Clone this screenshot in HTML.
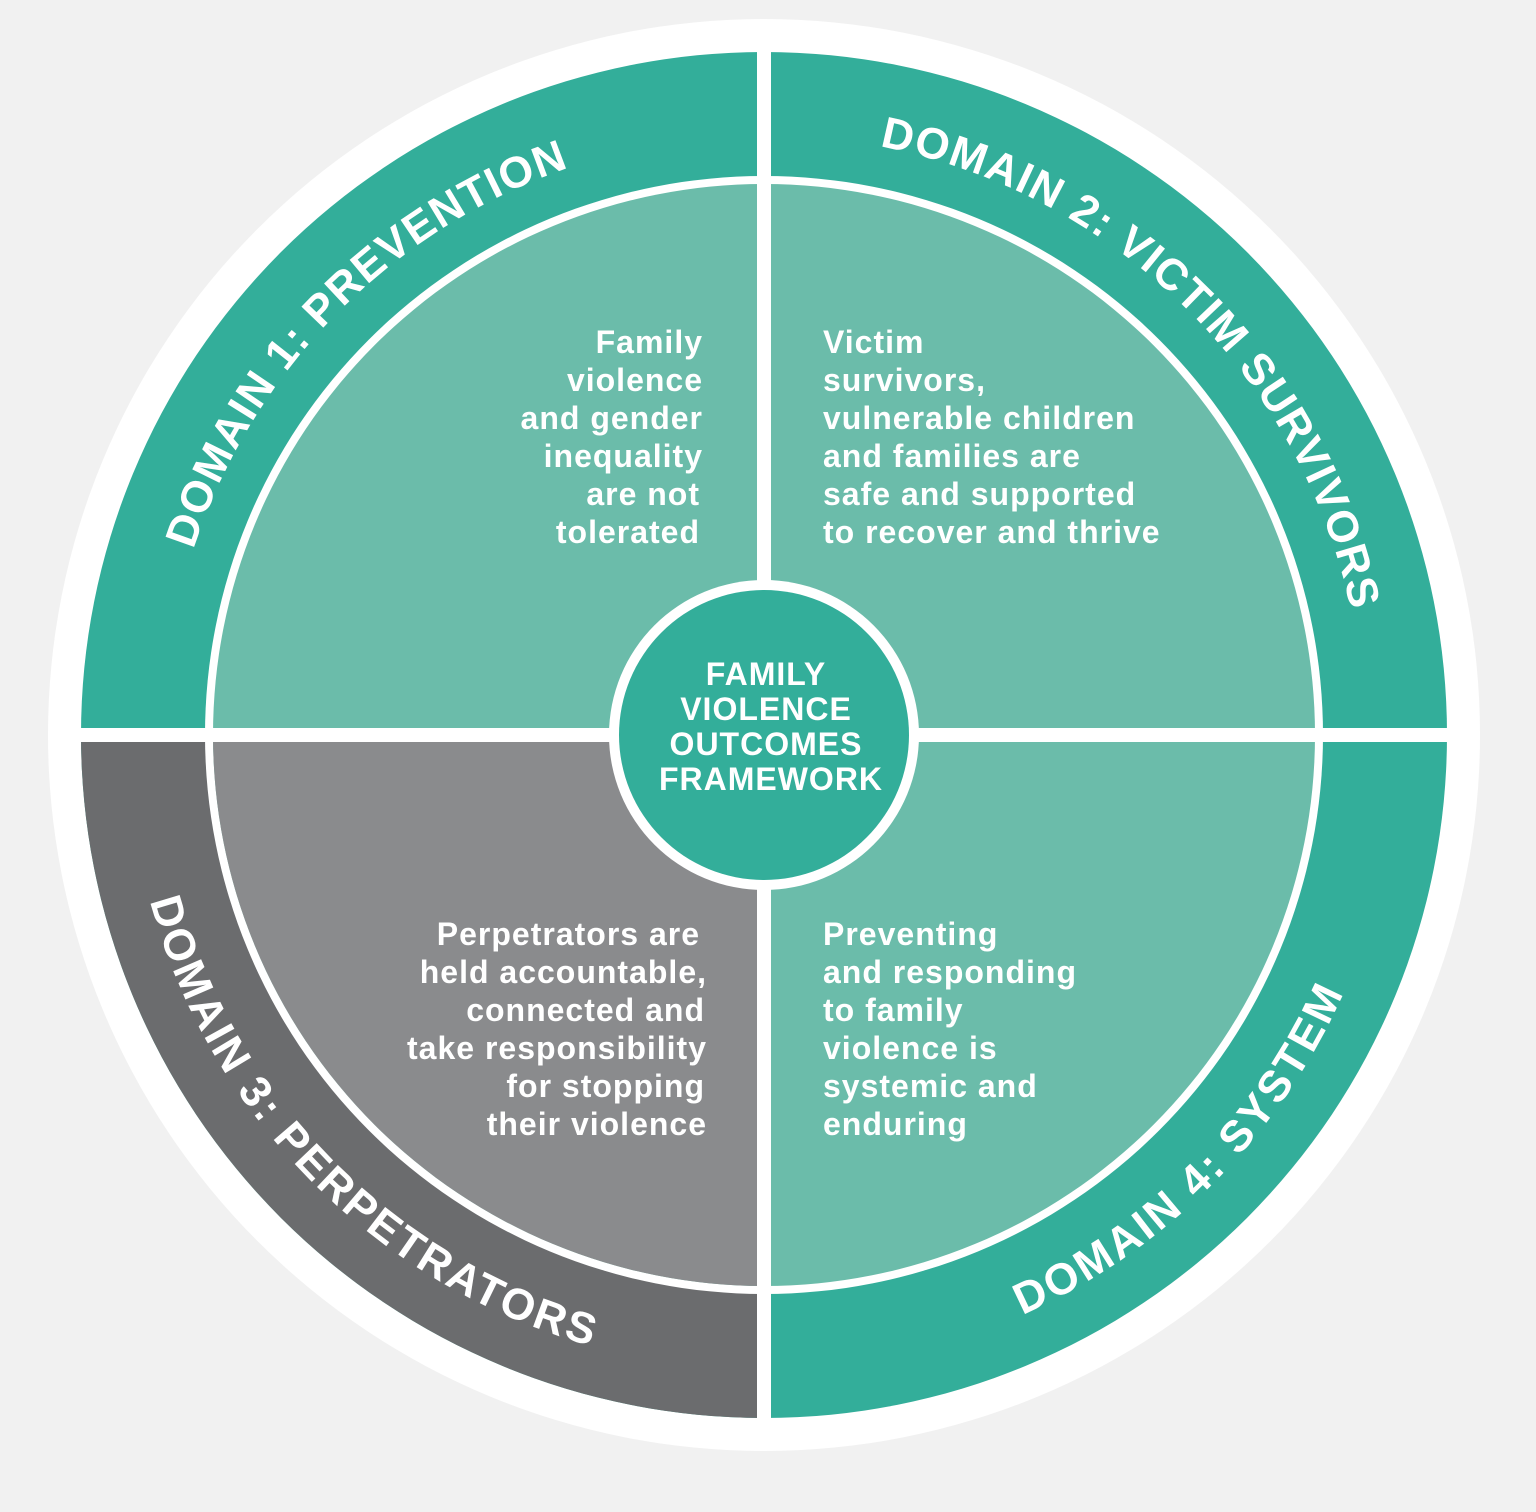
<!DOCTYPE html>
<html><head><meta charset="utf-8"><style>
html,body{margin:0;padding:0;background:#f1f1f1;}
svg{display:block}
.q{font-family:"Liberation Sans",sans-serif;font-weight:bold;font-size:32px;letter-spacing:1px;fill:#fff}
.d{font-family:"Liberation Sans",sans-serif;font-weight:bold;font-size:44px;fill:#fff}
</style></head><body>
<svg width="1536" height="1512" viewBox="0 0 1536 1512" xmlns="http://www.w3.org/2000/svg">
<rect width="1536" height="1512" fill="#f1f1f1"/>
<circle cx="764" cy="735" r="716" fill="#fff"/>
<circle cx="764" cy="735" r="683" fill="#33ae9a"/>
<path d="M764 735 L81 735 A683 683 0 0 0 764 1418 Z" fill="#6b6c6e"/>
<circle cx="764" cy="735" r="559" fill="#fff"/>
<circle cx="764" cy="735" r="551" fill="#6bbcaa"/>
<path d="M764 735 L213 735 A551 551 0 0 0 764 1286 Z" fill="#8a8b8d"/>
<rect x="757" y="40" width="14" height="1400" fill="#fff"/>
<rect x="60" y="728" width="1410" height="14" fill="#fff"/>
<circle cx="764" cy="735" r="155" fill="#fff"/>
<circle cx="764" cy="735" r="145" fill="#33ae9a"/>
<defs>
<path id="p1" d="M193.4 549.6 A600 600 0 0 1 568.7 167.7"/>
<path id="p2" d="M879.6 146.2 A600 600 0 0 1 1352.0 615.3"/>
<path id="p3" d="M149.9 900.9 A635 635 0 0 0 595.2 1347.1"/>
<path id="p4" d="M1022.3 1315.1 A635 635 0 0 0 1344.3 991.4"/>
</defs>
<text class="d"><textPath href="#p1" textLength="555" lengthAdjust="spacing">DOMAIN 1: PREVENTION</textPath></text>
<text class="d"><textPath href="#p2" textLength="700" lengthAdjust="spacing">DOMAIN 2: VICTIM SURVIVORS</textPath></text>
<text class="d"><textPath href="#p3" textLength="655" lengthAdjust="spacing">DOMAIN 3: PERPETRATORS</textPath></text>
<text class="d"><textPath href="#p4" textLength="465" lengthAdjust="spacing">DOMAIN 4: SYSTEM</textPath></text>
<g class="q" text-anchor="middle">
<text x="766" y="685">FAMILY</text>
<text x="766" y="720">VIOLENCE</text>
<text x="766" y="755">OUTCOMES</text>
<text x="771" y="790">FRAMEWORK</text>
</g>
<g class="q" text-anchor="end">
<text x="703" y="353">Family</text>
<text x="703" y="391">violence</text>
<text x="703" y="429">and gender</text>
<text x="703" y="467">inequality</text>
<text x="700" y="505">are not</text>
<text x="700" y="543">tolerated</text>
<text x="700" y="945">Perpetrators are</text>
<text x="707" y="983">held accountable,</text>
<text x="705" y="1021">connected and</text>
<text x="707" y="1059">take responsibility</text>
<text x="705" y="1097">for stopping</text>
<text x="707" y="1135">their violence</text>
</g>
<g class="q">
<text x="823" y="353">Victim</text>
<text x="823" y="391">survivors,</text>
<text x="823" y="429">vulnerable children</text>
<text x="823" y="467">and families are</text>
<text x="823" y="505">safe and supported</text>
<text x="823" y="543">to recover and thrive</text>
<text x="823" y="945">Preventing</text>
<text x="823" y="983">and responding</text>
<text x="823" y="1021">to family</text>
<text x="823" y="1059">violence is</text>
<text x="823" y="1097">systemic and</text>
<text x="823" y="1135">enduring</text>
</g>
</svg>
</body></html>
